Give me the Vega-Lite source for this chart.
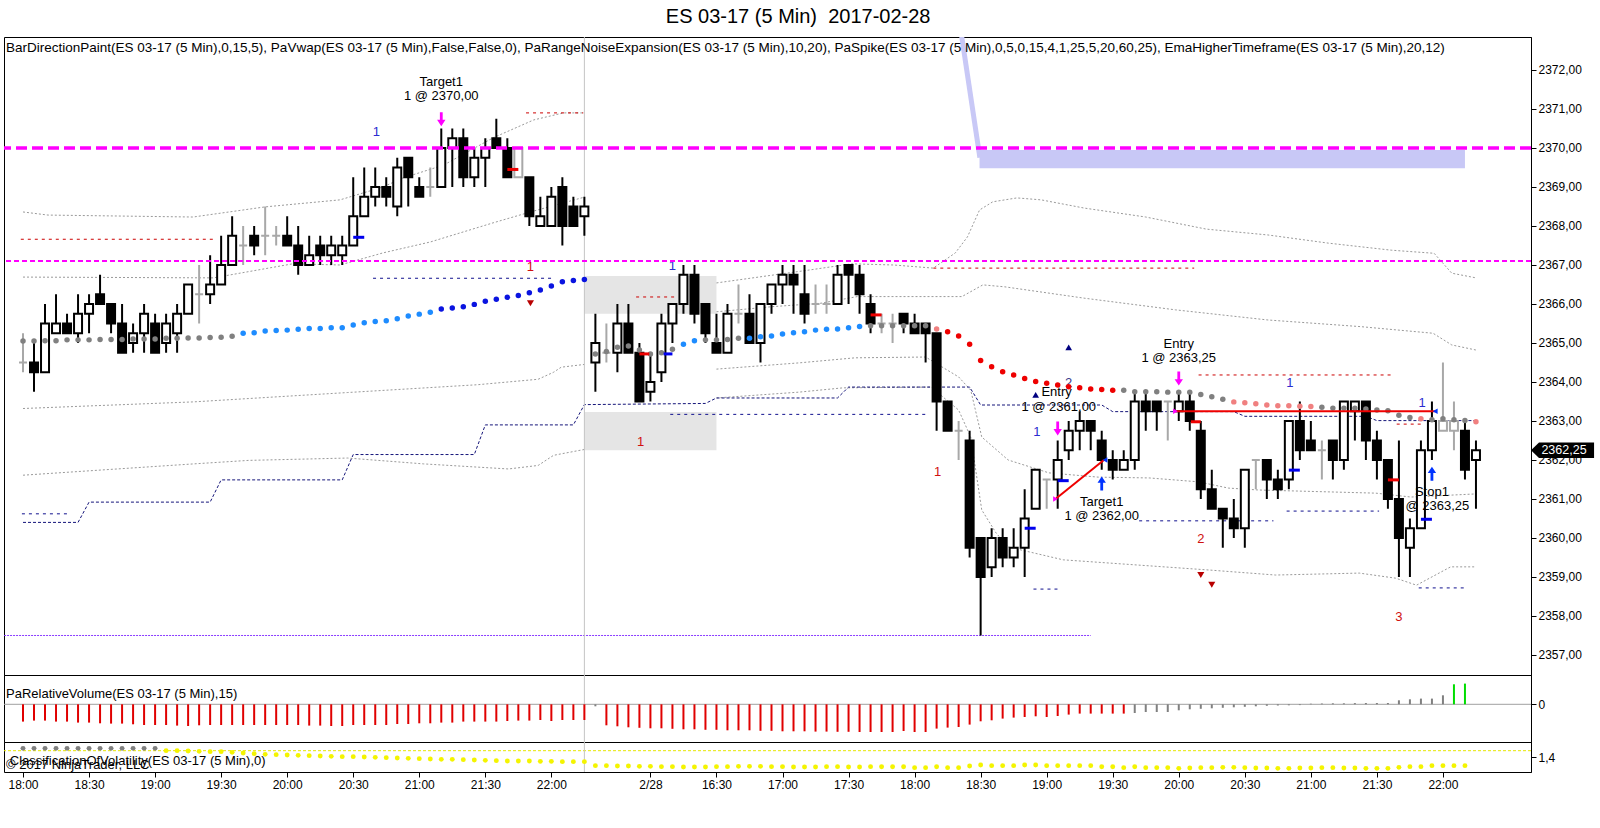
{
  "$schema": "https://vega.github.io/schema/vega-lite/v6.json",
  "padding": {"top": 7, "left": 1, "right": 0, "bottom": 0},
  "background": "white",
  "spacing": 0,
  "bounds": "flush",
  "config": {
    "font": "Liberation Sans",
    "view": {"stroke": "black", "strokeWidth": 1},
    "axis": {"labelColor": "black", "tickColor": "black", "domainColor": "black", "labelFontSize": 12, "grid": false}
  },
  "title": {"text": "ES 03-17 (5 Min)\u00a0 2017-02-28", "fontSize": 20, "fontWeight": "normal", "color": "black", "anchor": "middle", "frame": "bounds", "offset": 9},
  "datasets": {
    "bars": [
      {"i":0,"t":"2/27 18:00","o":2364.5,"h":2365.25,"l":2364.25,"c":2364.5,"d":"flat"},
      {"i":1,"t":"18:05","o":2364.5,"h":2365,"l":2363.75,"c":2364.25,"d":"down"},
      {"i":2,"t":"18:10","o":2364.25,"h":2366,"l":2364.25,"c":2365.5,"d":"up"},
      {"i":3,"t":"18:15","o":2365.25,"h":2366.25,"l":2365.25,"c":2365.5,"d":"up"},
      {"i":4,"t":"18:20","o":2365.5,"h":2365.75,"l":2365.25,"c":2365.25,"d":"down"},
      {"i":5,"t":"18:25","o":2365.25,"h":2366.25,"l":2365,"c":2365.75,"d":"up"},
      {"i":6,"t":"18:30","o":2365.75,"h":2366.25,"l":2365.25,"c":2366,"d":"up"},
      {"i":7,"t":"18:35","o":2366.25,"h":2366.75,"l":2366,"c":2366,"d":"down"},
      {"i":8,"t":"18:40","o":2366,"h":2366,"l":2365.25,"c":2365.5,"d":"down"},
      {"i":9,"t":"18:45","o":2365.5,"h":2366,"l":2364.75,"c":2364.75,"d":"down"},
      {"i":10,"t":"18:50","o":2365,"h":2365.5,"l":2364.75,"c":2365.25,"d":"up"},
      {"i":11,"t":"18:55","o":2365.25,"h":2366,"l":2364.75,"c":2365.75,"d":"up"},
      {"i":12,"t":"19:00","o":2365.5,"h":2365.75,"l":2364.75,"c":2364.75,"d":"down"},
      {"i":13,"t":"19:05","o":2365,"h":2365.75,"l":2364.75,"c":2365.5,"d":"up"},
      {"i":14,"t":"19:10","o":2365.25,"h":2366,"l":2364.75,"c":2365.75,"d":"up"},
      {"i":15,"t":"19:15","o":2365.75,"h":2366.5,"l":2365.75,"c":2366.5,"d":"up"},
      {"i":16,"t":"19:20","o":2366.25,"h":2367,"l":2365.5,"c":2366.25,"d":"flat"},
      {"i":17,"t":"19:25","o":2366.25,"h":2367.25,"l":2366,"c":2366.5,"d":"up"},
      {"i":18,"t":"19:30","o":2366.5,"h":2367.75,"l":2366.5,"c":2367,"d":"up"},
      {"i":19,"t":"19:35","o":2367,"h":2368.25,"l":2367,"c":2367.75,"d":"up"},
      {"i":20,"t":"19:40","o":2367.5,"h":2368,"l":2367,"c":2367.5,"d":"flat"},
      {"i":21,"t":"19:45","o":2367.75,"h":2368,"l":2367.25,"c":2367.5,"d":"down"},
      {"i":22,"t":"19:50","o":2367.75,"h":2368.5,"l":2367.25,"c":2367.75,"d":"flat"},
      {"i":23,"t":"19:55","o":2367.75,"h":2368,"l":2367.5,"c":2367.75,"d":"flat"},
      {"i":24,"t":"20:00","o":2367.75,"h":2368.25,"l":2367.5,"c":2367.5,"d":"down"},
      {"i":25,"t":"20:05","o":2367.5,"h":2368,"l":2366.75,"c":2367,"d":"down"},
      {"i":26,"t":"20:10","o":2367,"h":2367.75,"l":2367,"c":2367.25,"d":"up"},
      {"i":27,"t":"20:15","o":2367.5,"h":2367.75,"l":2367,"c":2367.25,"d":"down"},
      {"i":28,"t":"20:20","o":2367.25,"h":2367.75,"l":2367,"c":2367.5,"d":"up"},
      {"i":29,"t":"20:25","o":2367.25,"h":2367.75,"l":2367,"c":2367.5,"d":"up"},
      {"i":30,"t":"20:30","o":2367.5,"h":2369.25,"l":2367.5,"c":2368.25,"d":"up"},
      {"i":31,"t":"20:35","o":2368.25,"h":2369.5,"l":2368.25,"c":2368.75,"d":"up"},
      {"i":32,"t":"20:40","o":2368.75,"h":2369.5,"l":2368.5,"c":2369,"d":"up"},
      {"i":33,"t":"20:45","o":2369,"h":2369.25,"l":2368.5,"c":2368.75,"d":"down"},
      {"i":34,"t":"20:50","o":2368.5,"h":2369.75,"l":2368.25,"c":2369.5,"d":"up"},
      {"i":35,"t":"20:55","o":2369.75,"h":2369.75,"l":2368.5,"c":2369.25,"d":"down"},
      {"i":36,"t":"21:00","o":2369,"h":2369.25,"l":2368.75,"c":2368.75,"d":"down"},
      {"i":37,"t":"21:05","o":2369,"h":2369.5,"l":2368.75,"c":2369,"d":"flat"},
      {"i":38,"t":"21:10","o":2369,"h":2370.5,"l":2369,"c":2370,"d":"up"},
      {"i":39,"t":"21:15","o":2370,"h":2370.5,"l":2369,"c":2370.25,"d":"up"},
      {"i":40,"t":"21:20","o":2370.25,"h":2370.5,"l":2369,"c":2369.25,"d":"down"},
      {"i":41,"t":"21:25","o":2369.25,"h":2370,"l":2369,"c":2369.75,"d":"up"},
      {"i":42,"t":"21:30","o":2369.75,"h":2370.25,"l":2369,"c":2370,"d":"up"},
      {"i":43,"t":"21:35","o":2370.25,"h":2370.75,"l":2370,"c":2370,"d":"down"},
      {"i":44,"t":"21:40","o":2370,"h":2370.25,"l":2369.25,"c":2369.25,"d":"down"},
      {"i":45,"t":"21:45","o":2369.25,"h":2370,"l":2369.25,"c":2370,"d":"flat"},
      {"i":46,"t":"21:50","o":2369.25,"h":2369.25,"l":2368,"c":2368.25,"d":"down"},
      {"i":47,"t":"21:55","o":2368,"h":2368.75,"l":2368,"c":2368.25,"d":"up"},
      {"i":48,"t":"22:00","o":2368,"h":2369,"l":2368,"c":2368.75,"d":"up"},
      {"i":49,"t":"22:05","o":2369,"h":2369.25,"l":2367.5,"c":2368,"d":"down"},
      {"i":50,"t":"22:10","o":2368.5,"h":2368.75,"l":2368,"c":2368,"d":"down"},
      {"i":51,"t":"22:15","o":2368.25,"h":2368.75,"l":2367.75,"c":2368.5,"d":"up"},
      {"i":52,"t":"2/28 15:35","o":2364.5,"h":2365.75,"l":2363.75,"c":2365,"d":"up"},
      {"i":53,"t":"15:40","o":2364.75,"h":2365.5,"l":2364.5,"c":2364.75,"d":"flat"},
      {"i":54,"t":"15:45","o":2364.75,"h":2366,"l":2364.25,"c":2365.5,"d":"up"},
      {"i":55,"t":"15:50","o":2365.5,"h":2366,"l":2364.75,"c":2364.75,"d":"down"},
      {"i":56,"t":"15:55","o":2364.75,"h":2365,"l":2363.5,"c":2363.5,"d":"down"},
      {"i":57,"t":"16:00","o":2363.75,"h":2364.75,"l":2363.5,"c":2364,"d":"up"},
      {"i":58,"t":"16:05","o":2364.25,"h":2365.75,"l":2364,"c":2365.5,"d":"up"},
      {"i":59,"t":"16:10","o":2365.5,"h":2366,"l":2365,"c":2366,"d":"up"},
      {"i":60,"t":"16:15","o":2366,"h":2367,"l":2365.75,"c":2366.75,"d":"up"},
      {"i":61,"t":"16:20","o":2366.75,"h":2367,"l":2365.5,"c":2365.75,"d":"down"},
      {"i":62,"t":"16:25","o":2366,"h":2366,"l":2365,"c":2365.25,"d":"down"},
      {"i":63,"t":"16:30","o":2365,"h":2365.75,"l":2364.75,"c":2364.75,"d":"down"},
      {"i":64,"t":"16:35","o":2364.75,"h":2366,"l":2364.75,"c":2365.75,"d":"up"},
      {"i":65,"t":"16:40","o":2365.75,"h":2366.5,"l":2365.5,"c":2365.75,"d":"flat"},
      {"i":66,"t":"16:45","o":2365.75,"h":2366.25,"l":2365,"c":2365,"d":"down"},
      {"i":67,"t":"16:50","o":2365,"h":2366,"l":2364.5,"c":2366,"d":"up"},
      {"i":68,"t":"16:55","o":2366,"h":2366.5,"l":2365.75,"c":2366.5,"d":"up"},
      {"i":69,"t":"17:00","o":2366.5,"h":2367,"l":2366,"c":2366.75,"d":"up"},
      {"i":70,"t":"17:05","o":2366.75,"h":2367,"l":2365.75,"c":2366.5,"d":"down"},
      {"i":71,"t":"17:10","o":2366.25,"h":2367,"l":2365.5,"c":2365.75,"d":"down"},
      {"i":72,"t":"17:15","o":2366,"h":2366.5,"l":2365.75,"c":2366,"d":"flat"},
      {"i":73,"t":"17:20","o":2366,"h":2366.5,"l":2365.75,"c":2366,"d":"flat"},
      {"i":74,"t":"17:25","o":2366,"h":2367,"l":2366,"c":2366.75,"d":"up"},
      {"i":75,"t":"17:30","o":2367,"h":2367,"l":2366,"c":2366.75,"d":"down"},
      {"i":76,"t":"17:35","o":2366.75,"h":2367,"l":2365.75,"c":2366.25,"d":"down"},
      {"i":77,"t":"17:40","o":2366,"h":2366.25,"l":2365.25,"c":2365.5,"d":"down"},
      {"i":78,"t":"17:45","o":2365.5,"h":2365.75,"l":2365.25,"c":2365.5,"d":"flat"},
      {"i":79,"t":"17:50","o":2365.5,"h":2365.75,"l":2365,"c":2365.5,"d":"flat"},
      {"i":80,"t":"17:55","o":2365.75,"h":2365.75,"l":2365.25,"c":2365.5,"d":"down"},
      {"i":81,"t":"18:00","o":2365.5,"h":2365.75,"l":2365.25,"c":2365.25,"d":"down"},
      {"i":82,"t":"18:05","o":2365.5,"h":2365.5,"l":2364.5,"c":2365.25,"d":"down"},
      {"i":83,"t":"18:10","o":2365.25,"h":2365.25,"l":2362.75,"c":2363.5,"d":"down"},
      {"i":84,"t":"18:15","o":2363.5,"h":2363.5,"l":2362.75,"c":2362.75,"d":"down"},
      {"i":85,"t":"18:20","o":2362.75,"h":2363,"l":2362,"c":2362.75,"d":"flat"},
      {"i":86,"t":"18:25","o":2362.5,"h":2362.75,"l":2359.5,"c":2359.75,"d":"down"},
      {"i":87,"t":"18:30","o":2360,"h":2360,"l":2357.5,"c":2359,"d":"down"},
      {"i":88,"t":"18:35","o":2359.25,"h":2360.25,"l":2359,"c":2360,"d":"up"},
      {"i":89,"t":"18:40","o":2360,"h":2360.25,"l":2359.25,"c":2359.5,"d":"down"},
      {"i":90,"t":"18:45","o":2359.5,"h":2360.25,"l":2359.25,"c":2359.75,"d":"up"},
      {"i":91,"t":"18:50","o":2359.75,"h":2361.25,"l":2359,"c":2360.5,"d":"up"},
      {"i":92,"t":"18:55","o":2360.75,"h":2361.75,"l":2360.75,"c":2361.75,"d":"up"},
      {"i":93,"t":"19:00","o":2361.5,"h":2361.5,"l":2360.75,"c":2361.5,"d":"flat"},
      {"i":94,"t":"19:05","o":2361.5,"h":2362.5,"l":2360.75,"c":2362,"d":"up"},
      {"i":95,"t":"19:10","o":2362.25,"h":2363,"l":2362,"c":2362.75,"d":"up"},
      {"i":96,"t":"19:15","o":2362.75,"h":2363.25,"l":2362.25,"c":2363,"d":"up"},
      {"i":97,"t":"19:20","o":2363,"h":2363,"l":2362.25,"c":2362.75,"d":"down"},
      {"i":98,"t":"19:25","o":2362.5,"h":2362.75,"l":2361.75,"c":2362,"d":"down"},
      {"i":99,"t":"19:30","o":2362,"h":2362.25,"l":2361.5,"c":2361.75,"d":"down"},
      {"i":100,"t":"19:35","o":2361.75,"h":2362.25,"l":2361.75,"c":2362,"d":"up"},
      {"i":101,"t":"19:40","o":2362,"h":2363.75,"l":2361.75,"c":2363.5,"d":"up"},
      {"i":102,"t":"19:45","o":2363.5,"h":2363.75,"l":2362.75,"c":2363.25,"d":"down"},
      {"i":103,"t":"19:50","o":2363.5,"h":2363.5,"l":2362.75,"c":2363.25,"d":"down"},
      {"i":104,"t":"19:55","o":2363.5,"h":2363.5,"l":2362.5,"c":2363.5,"d":"flat"},
      {"i":105,"t":"20:00","o":2363.25,"h":2363.75,"l":2363,"c":2363.5,"d":"up"},
      {"i":106,"t":"20:05","o":2363.5,"h":2363.75,"l":2362.75,"c":2363,"d":"down"},
      {"i":107,"t":"20:10","o":2362.75,"h":2363,"l":2361,"c":2361.25,"d":"down"},
      {"i":108,"t":"20:15","o":2361.25,"h":2361.75,"l":2360.75,"c":2360.75,"d":"down"},
      {"i":109,"t":"20:20","o":2360.75,"h":2360.75,"l":2359.75,"c":2360.5,"d":"down"},
      {"i":110,"t":"20:25","o":2360.5,"h":2361,"l":2360,"c":2360.25,"d":"down"},
      {"i":111,"t":"20:30","o":2360.25,"h":2361.75,"l":2359.75,"c":2361.75,"d":"up"},
      {"i":112,"t":"20:35","o":2362,"h":2362,"l":2361.25,"c":2362,"d":"flat"},
      {"i":113,"t":"20:40","o":2362,"h":2362,"l":2361,"c":2361.5,"d":"down"},
      {"i":114,"t":"20:45","o":2361.5,"h":2361.75,"l":2361,"c":2361.25,"d":"down"},
      {"i":115,"t":"20:50","o":2361.5,"h":2363,"l":2361.25,"c":2363,"d":"up"},
      {"i":116,"t":"20:55","o":2363,"h":2363.5,"l":2362,"c":2362.25,"d":"down"},
      {"i":117,"t":"21:00","o":2362.5,"h":2363,"l":2362.25,"c":2362.25,"d":"down"},
      {"i":118,"t":"21:05","o":2362.25,"h":2362.5,"l":2361.5,"c":2362.25,"d":"flat"},
      {"i":119,"t":"21:10","o":2362.5,"h":2362.5,"l":2361.5,"c":2362,"d":"down"},
      {"i":120,"t":"21:15","o":2362,"h":2363.5,"l":2361.75,"c":2363.5,"d":"up"},
      {"i":121,"t":"21:20","o":2363.25,"h":2363.5,"l":2362.5,"c":2363.5,"d":"up"},
      {"i":122,"t":"21:25","o":2363.5,"h":2363.5,"l":2362,"c":2362.5,"d":"down"},
      {"i":123,"t":"21:30","o":2362.5,"h":2362.75,"l":2361.5,"c":2362,"d":"down"},
      {"i":124,"t":"21:35","o":2362,"h":2362,"l":2360.75,"c":2361,"d":"down"},
      {"i":125,"t":"21:40","o":2361,"h":2362.5,"l":2359,"c":2360,"d":"down"},
      {"i":126,"t":"21:45","o":2359.75,"h":2360.5,"l":2359,"c":2360.25,"d":"up"},
      {"i":127,"t":"21:50","o":2360.25,"h":2362.5,"l":2360.25,"c":2362.25,"d":"up"},
      {"i":128,"t":"21:55","o":2362.25,"h":2363.5,"l":2362,"c":2363,"d":"up"},
      {"i":129,"t":"22:00","o":2363,"h":2364.5,"l":2362.75,"c":2362.75,"d":"flat"},
      {"i":130,"t":"22:05","o":2363,"h":2363.5,"l":2362.25,"c":2362.75,"d":"flat"},
      {"i":131,"t":"22:10","o":2362.75,"h":2363,"l":2361.5,"c":2361.75,"d":"down"},
      {"i":132,"t":"22:15","o":2362,"h":2362.5,"l":2360.75,"c":2362.25,"d":"up"}
    ],
    "ema": [
      {"i":0,"p":2365.05,"c":"gray"},{"i":1,"p":2365.05,"c":"gray"},{"i":2,"p":2365.06,"c":"gray"},{"i":3,"p":2365.06,"c":"gray"},
      {"i":4,"p":2365.08,"c":"gray"},{"i":5,"p":2365.08,"c":"gray"},{"i":6,"p":2365.08,"c":"gray"},{"i":7,"p":2365.09,"c":"gray"},
      {"i":8,"p":2365.09,"c":"gray"},{"i":9,"p":2365.09,"c":"gray"},{"i":10,"p":2365.1,"c":"gray"},{"i":11,"p":2365.1,"c":"gray"},
      {"i":12,"p":2365.1,"c":"gray"},{"i":13,"p":2365.12,"c":"gray"},{"i":14,"p":2365.12,"c":"gray"},{"i":15,"p":2365.13,"c":"gray"},
      {"i":16,"p":2365.13,"c":"gray"},{"i":17,"p":2365.14,"c":"gray"},{"i":18,"p":2365.15,"c":"gray"},{"i":19,"p":2365.17,"c":"gray"},
      {"i":20,"p":2365.25,"c":"blue"},{"i":21,"p":2365.26,"c":"blue"},{"i":22,"p":2365.31,"c":"blue"},{"i":23,"p":2365.32,"c":"blue"},
      {"i":24,"p":2365.33,"c":"blue"},{"i":25,"p":2365.35,"c":"blue"},{"i":26,"p":2365.37,"c":"blue"},{"i":27,"p":2365.37,"c":"blue"},
      {"i":28,"p":2365.39,"c":"blue"},{"i":29,"p":2365.39,"c":"blue"},{"i":30,"p":2365.46,"c":"blue"},{"i":31,"p":2365.52,"c":"blue"},
      {"i":32,"p":2365.55,"c":"blue"},{"i":33,"p":2365.57,"c":"blue"},{"i":34,"p":2365.62,"c":"blue"},{"i":35,"p":2365.69,"c":"blue"},
      {"i":36,"p":2365.74,"c":"blue"},{"i":37,"p":2365.79,"c":"blue"},{"i":38,"p":2365.87,"c":"navy"},{"i":39,"p":2365.9,"c":"navy"},
      {"i":40,"p":2365.93,"c":"navy"},{"i":41,"p":2365.99,"c":"navy"},{"i":42,"p":2366.07,"c":"navy"},{"i":43,"p":2366.12,"c":"navy"},
      {"i":44,"p":2366.17,"c":"navy"},{"i":45,"p":2366.22,"c":"navy"},{"i":46,"p":2366.29,"c":"navy"},{"i":47,"p":2366.36,"c":"navy"},
      {"i":48,"p":2366.46,"c":"navy"},{"i":49,"p":2366.57,"c":"navy"},{"i":50,"p":2366.6,"c":"navy"},{"i":51,"p":2366.63,"c":"navy"},
      {"i":52,"p":2364.72,"c":"gray"},{"i":53,"p":2364.78,"c":"gray"},{"i":54,"p":2364.89,"c":"gray"},{"i":55,"p":2364.92,"c":"gray"},
      {"i":56,"p":2364.82,"c":"gray"},{"i":57,"p":2364.72,"c":"gray"},{"i":58,"p":2364.75,"c":"gray"},{"i":59,"p":2364.84,"c":"gray"},
      {"i":60,"p":2364.97,"c":"blue"},{"i":61,"p":2365.06,"c":"blue"},{"i":62,"p":2365.08,"c":"gray"},{"i":63,"p":2365.08,"c":"gray"},
      {"i":64,"p":2365.09,"c":"gray"},{"i":65,"p":2365.12,"c":"gray"},{"i":66,"p":2365.12,"c":"blue"},{"i":67,"p":2365.16,"c":"blue"},
      {"i":68,"p":2365.18,"c":"blue"},{"i":69,"p":2365.23,"c":"blue"},{"i":70,"p":2365.26,"c":"blue"},{"i":71,"p":2365.29,"c":"blue"},
      {"i":72,"p":2365.33,"c":"blue"},{"i":73,"p":2365.35,"c":"blue"},{"i":74,"p":2365.36,"c":"blue"},{"i":75,"p":2365.39,"c":"blue"},
      {"i":76,"p":2365.42,"c":"blue"},{"i":77,"p":2365.44,"c":"gray"},{"i":78,"p":2365.44,"c":"gray"},{"i":79,"p":2365.44,"c":"gray"},
      {"i":80,"p":2365.44,"c":"gray"},{"i":81,"p":2365.44,"c":"gray"},{"i":82,"p":2365.44,"c":"gray"},{"i":83,"p":2365.36,"c":"pink"},
      {"i":84,"p":2365.29,"c":"red"},{"i":85,"p":2365.18,"c":"red"},{"i":86,"p":2364.97,"c":"red"},{"i":87,"p":2364.55,"c":"red"},
      {"i":88,"p":2364.39,"c":"red"},{"i":89,"p":2364.26,"c":"red"},{"i":90,"p":2364.18,"c":"red"},{"i":91,"p":2364.09,"c":"red"},
      {"i":92,"p":2364.01,"c":"red"},{"i":93,"p":2363.97,"c":"red"},{"i":94,"p":2363.92,"c":"red"},{"i":95,"p":2363.88,"c":"red"},
      {"i":96,"p":2363.85,"c":"red"},{"i":97,"p":2363.82,"c":"red"},{"i":98,"p":2363.81,"c":"red"},{"i":99,"p":2363.79,"c":"red"},
      {"i":100,"p":2363.79,"c":"gray"},{"i":101,"p":2363.75,"c":"gray"},{"i":102,"p":2363.75,"c":"gray"},{"i":103,"p":2363.75,"c":"gray"},
      {"i":104,"p":2363.74,"c":"gray"},{"i":105,"p":2363.74,"c":"gray"},{"i":106,"p":2363.74,"c":"gray"},{"i":107,"p":2363.68,"c":"gray"},
      {"i":108,"p":2363.62,"c":"gray"},{"i":109,"p":2363.56,"c":"gray"},{"i":110,"p":2363.49,"c":"pink"},{"i":111,"p":2363.47,"c":"pink"},
      {"i":112,"p":2363.44,"c":"pink"},{"i":113,"p":2363.41,"c":"pink"},{"i":114,"p":2363.39,"c":"pink"},{"i":115,"p":2363.39,"c":"pink"},
      {"i":116,"p":2363.38,"c":"pink"},{"i":117,"p":2363.37,"c":"pink"},{"i":118,"p":2363.35,"c":"gray"},{"i":119,"p":2363.33,"c":"gray"},
      {"i":120,"p":2363.33,"c":"gray"},{"i":121,"p":2363.33,"c":"gray"},{"i":122,"p":2363.31,"c":"gray"},{"i":123,"p":2363.28,"c":"gray"},
      {"i":124,"p":2363.26,"c":"gray"},{"i":125,"p":2363.15,"c":"gray"},{"i":126,"p":2363.09,"c":"gray"},{"i":127,"p":2363.06,"c":"pink"},
      {"i":128,"p":2363.03,"c":"gray"},{"i":129,"p":2363.06,"c":"gray"},{"i":130,"p":2363.03,"c":"gray"},{"i":131,"p":2363.01,"c":"gray"},
      {"i":132,"p":2362.98,"c":"pink"}
    ],
    "bands": [
      {"s":"u2a","i":0,"p":2368.36},{"s":"u2a","i":2.27,"p":2368.28},{"s":"u2a","i":15.45,"p":2368.23},{"s":"u2a","i":22,"p":2368.49},{"s":"u2a","i":28.8,"p":2368.67},{"s":"u2a","i":32.7,"p":2369.0},{"s":"u2a","i":34.5,"p":2369.23},{"s":"u2a","i":38.2,"p":2369.56},{"s":"u2a","i":42.7,"p":2370.26},{"s":"u2a","i":46.4,"p":2370.72},{"s":"u2a","i":49.1,"p":2370.9},{"s":"u2a","i":51,"p":2370.9},
      {"s":"u1a","i":0,"p":2366.69},{"s":"u1a","i":17.3,"p":2366.67},{"s":"u1a","i":24.5,"p":2367.03},{"s":"u1a","i":28.8,"p":2367.0},{"s":"u1a","i":32.7,"p":2367.31},{"s":"u1a","i":37,"p":2367.59},{"s":"u1a","i":42.7,"p":2368.08},{"s":"u1a","i":46.1,"p":2368.36},{"s":"u1a","i":51,"p":2368.74},
      {"s":"l1a","i":0,"p":2363.32},{"s":"l1a","i":15.5,"p":2363.49},{"s":"l1a","i":29.5,"p":2363.73},{"s":"l1a","i":41.3,"p":2363.93},{"s":"l1a","i":46.8,"p":2364.07},{"s":"l1a","i":48.2,"p":2364.25},{"s":"l1a","i":48.9,"p":2364.38},{"s":"l1a","i":51,"p":2364.45},
      {"s":"l2a","i":0,"p":2361.61},{"s":"l2a","i":15.5,"p":2361.9},{"s":"l2a","i":20.5,"p":2361.99},{"s":"l2a","i":29.5,"p":2362.05},{"s":"l2a","i":36.4,"p":2361.9},{"s":"l2a","i":44.1,"p":2361.77},{"s":"l2a","i":46.8,"p":2361.86},{"s":"l2a","i":48.2,"p":2362.12},{"s":"l2a","i":51,"p":2362.27},
      {"s":"u2b","i":63,"p":2366.54},{"s":"u2b","i":71.4,"p":2366.87},{"s":"u2b","i":75.3,"p":2367.03},{"s":"u2b","i":79.1,"p":2367.0},{"s":"u2b","i":82.7,"p":2366.92},{"s":"u2b","i":84.7,"p":2367.31},{"s":"u2b","i":85.8,"p":2367.72},{"s":"u2b","i":86.9,"p":2368.41},{"s":"u2b","i":88.1,"p":2368.62},{"s":"u2b","i":90.3,"p":2368.72},{"s":"u2b","i":92.5,"p":2368.67},{"s":"u2b","i":96.4,"p":2368.46},{"s":"u2b","i":102,"p":2368.23},{"s":"u2b","i":107.5,"p":2367.92},{"s":"u2b","i":113.1,"p":2367.77},{"s":"u2b","i":118.6,"p":2367.56},{"s":"u2b","i":124.3,"p":2367.38},{"s":"u2b","i":128.2,"p":2367.3},{"s":"u2b","i":129.8,"p":2366.79},{"s":"u2b","i":132,"p":2366.67},
      {"s":"u1b","i":63,"p":2365.8},{"s":"u1b","i":68,"p":2365.93},{"s":"u1b","i":72.5,"p":2366.02},{"s":"u1b","i":75.8,"p":2366.19},{"s":"u1b","i":85.3,"p":2366.19},{"s":"u1b","i":87.2,"p":2366.49},{"s":"u1b","i":89.2,"p":2366.44},{"s":"u1b","i":96.4,"p":2366.15},{"s":"u1b","i":104.7,"p":2365.85},{"s":"u1b","i":113.1,"p":2365.59},{"s":"u1b","i":121.5,"p":2365.42},{"s":"u1b","i":128.1,"p":2365.25},{"s":"u1b","i":129.8,"p":2364.95},{"s":"u1b","i":132,"p":2364.82},
      {"s":"l1b","i":63,"p":2364.33},{"s":"l1b","i":70.5,"p":2364.49},{"s":"l1b","i":75.6,"p":2364.62},{"s":"l1b","i":82,"p":2364.64},{"s":"l1b","i":85,"p":2364.13},{"s":"l1b","i":86.1,"p":2363.79},{"s":"l1b","i":87.1,"p":2362.59},{"s":"l1b","i":89.5,"p":2362.0},{"s":"l1b","i":93.2,"p":2361.67},{"s":"l1b","i":97.7,"p":2361.56},{"s":"l1b","i":102.3,"p":2361.54},{"s":"l1b","i":106.8,"p":2361.44},{"s":"l1b","i":109.5,"p":2361.28},{"s":"l1b","i":112.3,"p":2361.23},{"s":"l1b","i":122.9,"p":2361.15},{"s":"l1b","i":126.1,"p":2361.05},{"s":"l1b","i":132,"p":2361.13},
      {"s":"l2b","i":63,"p":2363.59},{"s":"l2b","i":70.5,"p":2363.74},{"s":"l2b","i":74.5,"p":2363.85},{"s":"l2b","i":82.5,"p":2363.87},{"s":"l2b","i":85,"p":2363.28},{"s":"l2b","i":86.1,"p":2362.59},{"s":"l2b","i":87.1,"p":2360.72},{"s":"l2b","i":88.4,"p":2360.13},{"s":"l2b","i":89.5,"p":2359.77},{"s":"l2b","i":94.5,"p":2359.44},{"s":"l2b","i":107.7,"p":2359.18},{"s":"l2b","i":113.8,"p":2359.05},{"s":"l2b","i":121.4,"p":2359.1},{"s":"l2b","i":124.7,"p":2358.97},{"s":"l2b","i":126.6,"p":2358.79},{"s":"l2b","i":129.7,"p":2359.26},{"s":"l2b","i":132,"p":2359.26}
    ],
    "steps": [
      {"i":0,"p":2360.4},{"i":5,"p":2360.4},{"i":6,"p":2360.92},{"i":17,"p":2360.92},{"i":18,"p":2361.49},{"i":29,"p":2361.49},
      {"i":30,"p":2362.14},{"i":41,"p":2362.14},{"i":42,"p":2362.9},{"i":50,"p":2362.9},{"i":51,"p":2363.42},{"i":62,"p":2363.45},
      {"i":63,"p":2363.59},{"i":74,"p":2363.59},{"i":75,"p":2363.87},{"i":86,"p":2363.87},{"i":87,"p":2363.41},{"i":98,"p":2363.41},
      {"i":99,"p":2363.24},{"i":110,"p":2363.24},{"i":111,"p":2363.12},{"i":122,"p":2363.12},{"i":123,"p":2363.01},{"i":132,"p":2363.01}
    ],
    "levels": [
      {"k":"red","i1":-0.2,"i2":17.3,"p":2367.66},
      {"k":"red","i1":45.7,"i2":50.9,"p":2370.9},
      {"k":"navy","i1":-0.1,"i2":4.1,"p":2360.62},
      {"k":"navy","i1":31.8,"i2":48,"p":2366.66},
      {"k":"red","i1":55.7,"i2":59.5,"p":2366.18},
      {"k":"navy","i1":58.8,"i2":82.3,"p":2363.17},
      {"k":"red","i1":82.7,"i2":106.4,"p":2366.92},
      {"k":"navy","i1":91.8,"i2":94.3,"p":2358.69},
      {"k":"navy","i1":101.4,"i2":113.6,"p":2360.44},
      {"k":"red","i1":106.8,"i2":124.3,"p":2364.18},
      {"k":"navy","i1":114.8,"i2":123.2,"p":2360.69},
      {"k":"red","i1":124.8,"i2":127.1,"p":2362.92},
      {"k":"navy","i1":126.8,"i2":131.2,"p":2358.72},
      {"k":"purple","i1":-1.72,"i2":97,"p":2357.5}
    ],
    "hlines": [{"k":"thick","p":2370.0},{"k":"thin","p":2367.1}],
    "boxes": [{"i1":51,"i2":63,"p1":2365.75,"p2":2366.72},{"i1":51,"i2":63,"p1":2362.25,"p2":2363.23}],
    "lav": [{"i1":86.9,"i2":131,"p1":2369.48,"p2":2369.95}],
    "lavslant": [{"i":85.1,"p":2373.2},{"i":86.93,"p":2369.75}],
    "sess": [{"i":51}],
    "trades": [{"tr":1,"i":93.8,"p":2361.0},{"tr":1,"i":98.2,"p":2362.0},{"tr":2,"i":104.7,"p":2363.25},{"tr":2,"i":128.3,"p":2363.25}],
    "mk": [
      {"k":"spike_dn","i":46.1,"p":2366.02},{"k":"spike_dn","i":107,"p":2359.05},{"k":"spike_dn","i":108,"p":2358.8},
      {"k":"spike_up","i":95,"p":2364.89},{"k":"spike_up","i":92,"p":2363.67},
      {"k":"sell","i":38,"p":2370.74},{"k":"sell","i":94,"p":2362.81},{"k":"sell","i":105,"p":2364.09},
      {"k":"buy","i":98,"p":2361.4},{"k":"buy","i":128,"p":2361.65},
      {"k":"entry","i":93.8,"p":2361.0},{"k":"entry","i":104.7,"p":2363.25},
      {"k":"exit","i":98.3,"p":2362.0},{"k":"exit","i":128.3,"p":2363.25}
    ],
    "ann": [
      {"i":38,"p":2371.7,"txt":"Target1"},{"i":38,"p":2371.34,"txt":"1 @ 2370,00"},
      {"i":93.9,"p":2363.75,"txt":"Entry"},{"i":94.1,"p":2363.35,"txt":"1 @ 2361,00"},
      {"i":98,"p":2360.93,"txt":"Target1"},{"i":98,"p":2360.57,"txt":"1 @ 2362,00"},
      {"i":105,"p":2364.97,"txt":"Entry"},{"i":105,"p":2364.61,"txt":"1 @ 2363,25"},
      {"i":128,"p":2361.19,"txt":"Stop1"},{"i":128,"p":2360.82,"txt":"1 @ 2363,25"}
    ],
    "num": [
      {"i":32.1,"p":2370.42,"txt":"1","k":"blue"},{"i":46.1,"p":2366.96,"txt":"1","k":"red"},
      {"i":59,"p":2366.97,"txt":"1","k":"blue"},{"i":56.1,"p":2362.47,"txt":"1","k":"red"},
      {"i":83.1,"p":2361.7,"txt":"1","k":"red"},{"i":92.1,"p":2362.73,"txt":"1","k":"blue"},
      {"i":95,"p":2363.97,"txt":"2","k":"navy"},{"i":107,"p":2359.97,"txt":"2","k":"red"},
      {"i":115.1,"p":2363.97,"txt":"1","k":"blue"},{"i":127.1,"p":2363.47,"txt":"1","k":"blue"},
      {"i":125,"p":2357.98,"txt":"3","k":"red"}
    ],
    "tk": [
      {"k":"blue","i1":30,"i2":31,"p":2367.71},{"k":"red","i1":44,"i2":45,"p":2369.45},
      {"k":"red","i1":56,"i2":56.9,"p":2364.72},{"k":"blue","i1":58.2,"i2":59,"p":2364.72},
      {"k":"red","i1":77,"i2":78,"p":2365.72},{"k":"blue","i1":91,"i2":92,"p":2360.25},
      {"k":"blue","i1":94,"i2":95,"p":2361.47},{"k":"red","i1":106.1,"i2":107,"p":2362.98},
      {"k":"blue","i1":115,"i2":116,"p":2361.74},{"k":"red","i1":124,"i2":125,"p":2361.49},
      {"k":"blue","i1":127,"i2":128,"p":2360.48}
    ],
    "hdr": [{"i":-1.545,"p":2372.56,"txt":"BarDirectionPaint(ES 03-17 (5 Min),0,15,5),  PaVwap(ES 03-17 (5 Min),False,False,0),  PaRangeNoiseExpansion(ES 03-17 (5 Min),10,20),  PaSpike(ES 03-17 (5 Min),0,5,0,15,4,1,25,5,20,60,25),  EmaHigherTimeframe(ES 03-17 (5 Min),20,12)"}],
    "tag": [{"i":137,"p":2362.25,"txt":"2362,25"}],
    "vol": [
      {"i":0,"v":-17.3,"c":"red"},{"i":1,"v":-16.3,"c":"red"},{"i":2,"v":-16.3,"c":"red"},{"i":3,"v":-17.3,"c":"red"},{"i":4,"v":-17.3,"c":"red"},
      {"i":5,"v":-18.3,"c":"red"},{"i":6,"v":-18.3,"c":"red"},{"i":7,"v":-19,"c":"red"},{"i":8,"v":-19.3,"c":"red"},{"i":9,"v":-19.3,"c":"red"},
      {"i":10,"v":-20,"c":"red"},{"i":11,"v":-20.7,"c":"red"},{"i":12,"v":-20.7,"c":"red"},{"i":13,"v":-20.7,"c":"red"},{"i":14,"v":-21.3,"c":"red"},
      {"i":15,"v":-21.7,"c":"red"},{"i":16,"v":-21,"c":"red"},{"i":17,"v":-20.7,"c":"red"},{"i":18,"v":-20.7,"c":"red"},{"i":19,"v":-20.7,"c":"red"},
      {"i":20,"v":-20.7,"c":"red"},{"i":21,"v":-20.7,"c":"red"},{"i":22,"v":-20.7,"c":"red"},{"i":23,"v":-20.7,"c":"red"},{"i":24,"v":-20.7,"c":"red"},
      {"i":25,"v":-20.7,"c":"red"},{"i":26,"v":-21.3,"c":"red"},{"i":27,"v":-21.3,"c":"red"},{"i":28,"v":-21.7,"c":"red"},{"i":29,"v":-21.7,"c":"red"},
      {"i":30,"v":-20.7,"c":"red"},{"i":31,"v":-20.7,"c":"red"},{"i":32,"v":-20.7,"c":"red"},{"i":33,"v":-20.7,"c":"red"},{"i":34,"v":-19.7,"c":"red"},
      {"i":35,"v":-19.7,"c":"red"},{"i":36,"v":-19,"c":"red"},{"i":37,"v":-19,"c":"red"},{"i":38,"v":-18.3,"c":"red"},{"i":39,"v":-18.3,"c":"red"},
      {"i":40,"v":-17.3,"c":"red"},{"i":41,"v":-17.3,"c":"red"},{"i":42,"v":-17.3,"c":"red"},{"i":43,"v":-17.3,"c":"red"},{"i":44,"v":-16.7,"c":"red"},
      {"i":45,"v":-16.3,"c":"red"},{"i":46,"v":-16.3,"c":"red"},{"i":47,"v":-15.7,"c":"red"},{"i":48,"v":-16.7,"c":"red"},{"i":49,"v":-15.7,"c":"red"},
      {"i":50,"v":-15.7,"c":"red"},{"i":51,"v":-15.7,"c":"red"},
      {"i":52,"v":-2,"c":"gray"},
      {"i":53,"v":-21,"c":"red"},{"i":54,"v":-22,"c":"red"},{"i":55,"v":-23,"c":"red"},{"i":56,"v":-23.5,"c":"red"},{"i":57,"v":-24,"c":"red"},
      {"i":58,"v":-24,"c":"red"},{"i":59,"v":-24.5,"c":"red"},{"i":60,"v":-25,"c":"red"},{"i":61,"v":-25,"c":"red"},{"i":62,"v":-25.5,"c":"red"},
      {"i":63,"v":-25.5,"c":"red"},{"i":64,"v":-26,"c":"red"},{"i":65,"v":-26,"c":"red"},{"i":66,"v":-26,"c":"red"},{"i":67,"v":-26.5,"c":"red"},
      {"i":68,"v":-26.5,"c":"red"},{"i":69,"v":-27,"c":"red"},{"i":70,"v":-27,"c":"red"},{"i":71,"v":-27,"c":"red"},{"i":72,"v":-27.3,"c":"red"},
      {"i":73,"v":-27.3,"c":"red"},{"i":74,"v":-27.5,"c":"red"},{"i":75,"v":-27.5,"c":"red"},{"i":76,"v":-27.7,"c":"red"},{"i":77,"v":-27.7,"c":"red"},
      {"i":78,"v":-27.7,"c":"red"},{"i":79,"v":-27.7,"c":"red"},{"i":80,"v":-26.7,"c":"red"},{"i":81,"v":-27.7,"c":"red"},{"i":82,"v":-27.7,"c":"red"},
      {"i":83,"v":-24.3,"c":"red"},{"i":84,"v":-23.3,"c":"red"},{"i":85,"v":-22.7,"c":"red"},{"i":86,"v":-20.3,"c":"red"},{"i":87,"v":-17,"c":"red"},
      {"i":88,"v":-16,"c":"red"},{"i":89,"v":-14.3,"c":"red"},{"i":90,"v":-13.3,"c":"red"},{"i":91,"v":-12.7,"c":"red"},{"i":92,"v":-12,"c":"red"},
      {"i":93,"v":-12.7,"c":"red"},{"i":94,"v":-11.7,"c":"red"},{"i":95,"v":-10.3,"c":"red"},{"i":96,"v":-9.3,"c":"red"},{"i":97,"v":-9.3,"c":"red"},
      {"i":98,"v":-9.3,"c":"red"},{"i":99,"v":-9.3,"c":"red"},{"i":100,"v":-9.3,"c":"red"},
      {"i":101,"v":-8.7,"c":"gray"},{"i":102,"v":-7.7,"c":"gray"},{"i":103,"v":-7.7,"c":"gray"},{"i":104,"v":-7.7,"c":"gray"},{"i":105,"v":-6,"c":"gray"},
      {"i":106,"v":-5,"c":"gray"},{"i":107,"v":-4.5,"c":"gray"},{"i":108,"v":-4,"c":"gray"},{"i":109,"v":-3.5,"c":"gray"},{"i":110,"v":-3,"c":"gray"},
      {"i":111,"v":-2.5,"c":"gray"},{"i":112,"v":-2,"c":"gray"},{"i":113,"v":-1.5,"c":"gray"},{"i":114,"v":-1.2,"c":"gray"},{"i":115,"v":-1,"c":"gray"},
      {"i":116,"v":-0.8,"c":"gray"},{"i":117,"v":0.6,"c":"gray"},{"i":118,"v":0.8,"c":"gray"},{"i":119,"v":1,"c":"gray"},{"i":120,"v":1,"c":"gray"},
      {"i":121,"v":1.2,"c":"gray"},{"i":122,"v":1.3,"c":"gray"},{"i":123,"v":1.3,"c":"gray"},{"i":124,"v":1.3,"c":"gray"},{"i":125,"v":4,"c":"gray"},
      {"i":126,"v":5,"c":"gray"},{"i":127,"v":5.7,"c":"gray"},{"i":128,"v":5.7,"c":"gray"},{"i":129,"v":9,"c":"gray"},
      {"i":130,"v":20,"c":"green"},{"i":131,"v":20.7,"c":"green"}
    ],
    "zero": [{"v":0}],
    "volat": [
      {"i":0,"v":1.573,"c":"gray"},{"i":1,"v":1.573,"c":"gray"},{"i":2,"v":1.573,"c":"gray"},{"i":3,"v":1.573,"c":"gray"},{"i":4,"v":1.573,"c":"gray"},
      {"i":5,"v":1.573,"c":"gray"},{"i":6,"v":1.573,"c":"gray"},{"i":7,"v":1.573,"c":"gray"},{"i":8,"v":1.573,"c":"gray"},{"i":9,"v":1.573,"c":"gray"},
      {"i":10,"v":1.573,"c":"gray"},{"i":11,"v":1.573,"c":"gray"},{"i":12,"v":1.573,"c":"gray"},
      {"i":13,"v":1.527,"c":"yellow"},{"i":14,"v":1.527,"c":"yellow"},{"i":15,"v":1.52,"c":"yellow"},{"i":16,"v":1.513,"c":"yellow"},{"i":17,"v":1.507,"c":"yellow"},
      {"i":18,"v":1.507,"c":"yellow"},{"i":19,"v":1.493,"c":"yellow"},{"i":20,"v":1.48,"c":"yellow"},{"i":21,"v":1.467,"c":"yellow"},{"i":22,"v":1.453,"c":"yellow"},
      {"i":23,"v":1.447,"c":"yellow"},{"i":24,"v":1.44,"c":"yellow"},{"i":25,"v":1.433,"c":"yellow"},{"i":26,"v":1.427,"c":"yellow"},{"i":27,"v":1.42,"c":"yellow"},
      {"i":28,"v":1.413,"c":"yellow"},{"i":29,"v":1.407,"c":"yellow"},{"i":30,"v":1.407,"c":"yellow"},{"i":31,"v":1.4,"c":"yellow"},{"i":32,"v":1.393,"c":"yellow"},
      {"i":33,"v":1.387,"c":"yellow"},{"i":34,"v":1.38,"c":"yellow"},{"i":35,"v":1.373,"c":"yellow"},{"i":36,"v":1.367,"c":"yellow"},{"i":37,"v":1.36,"c":"yellow"},
      {"i":38,"v":1.353,"c":"yellow"},{"i":39,"v":1.353,"c":"yellow"},{"i":40,"v":1.347,"c":"yellow"},{"i":41,"v":1.34,"c":"yellow"},{"i":42,"v":1.333,"c":"yellow"},
      {"i":43,"v":1.327,"c":"yellow"},{"i":44,"v":1.32,"c":"yellow"},{"i":45,"v":1.32,"c":"yellow"},{"i":46,"v":1.32,"c":"yellow"},{"i":47,"v":1.313,"c":"yellow"},
      {"i":48,"v":1.313,"c":"yellow"},{"i":49,"v":1.307,"c":"yellow"},{"i":50,"v":1.307,"c":"yellow"},{"i":51,"v":1.307,"c":"yellow"},
      {"i":52,"v":1.227,"c":"yellow"},{"i":53,"v":1.227,"c":"yellow"},{"i":54,"v":1.22,"c":"yellow"},{"i":55,"v":1.22,"c":"yellow"},{"i":56,"v":1.213,"c":"yellow"},
      {"i":57,"v":1.213,"c":"yellow"},{"i":58,"v":1.207,"c":"yellow"},{"i":59,"v":1.207,"c":"yellow"},{"i":60,"v":1.2,"c":"yellow"},{"i":61,"v":1.2,"c":"yellow"},
      {"i":62,"v":1.2,"c":"yellow"},{"i":63,"v":1.207,"c":"yellow"},{"i":64,"v":1.207,"c":"yellow"},{"i":65,"v":1.213,"c":"yellow"},{"i":66,"v":1.213,"c":"yellow"},
      {"i":67,"v":1.213,"c":"yellow"},{"i":68,"v":1.207,"c":"yellow"},{"i":69,"v":1.207,"c":"yellow"},{"i":70,"v":1.2,"c":"yellow"},{"i":71,"v":1.2,"c":"yellow"},
      {"i":72,"v":1.2,"c":"yellow"},{"i":73,"v":1.207,"c":"yellow"},{"i":74,"v":1.207,"c":"yellow"},{"i":75,"v":1.2,"c":"yellow"},{"i":76,"v":1.2,"c":"yellow"},
      {"i":77,"v":1.207,"c":"yellow"},{"i":78,"v":1.206,"c":"yellow"},{"i":79,"v":1.206,"c":"yellow"},{"i":80,"v":1.206,"c":"yellow"},{"i":81,"v":1.187,"c":"yellow"},
      {"i":82,"v":1.187,"c":"yellow"},{"i":83,"v":1.206,"c":"yellow"},{"i":84,"v":1.187,"c":"yellow"},{"i":85,"v":1.187,"c":"yellow"},{"i":86,"v":1.22,"c":"yellow"},
      {"i":87,"v":1.24,"c":"yellow"},{"i":88,"v":1.227,"c":"yellow"},{"i":89,"v":1.227,"c":"yellow"},{"i":90,"v":1.227,"c":"yellow"},{"i":91,"v":1.24,"c":"yellow"},
      {"i":92,"v":1.24,"c":"yellow"},{"i":93,"v":1.227,"c":"yellow"},{"i":94,"v":1.227,"c":"yellow"},{"i":95,"v":1.227,"c":"yellow"},{"i":96,"v":1.227,"c":"yellow"},
      {"i":97,"v":1.227,"c":"yellow"},{"i":98,"v":1.206,"c":"yellow"},{"i":99,"v":1.206,"c":"yellow"},{"i":100,"v":1.187,"c":"yellow"},{"i":101,"v":1.206,"c":"yellow"},
      {"i":102,"v":1.187,"c":"yellow"},{"i":103,"v":1.187,"c":"yellow"},{"i":104,"v":1.187,"c":"yellow"},{"i":105,"v":1.173,"c":"yellow"},{"i":106,"v":1.18,"c":"yellow"},
      {"i":107,"v":1.187,"c":"yellow"},{"i":108,"v":1.187,"c":"yellow"},{"i":109,"v":1.193,"c":"yellow"},{"i":110,"v":1.193,"c":"yellow"},{"i":111,"v":1.187,"c":"yellow"},
      {"i":112,"v":1.18,"c":"yellow"},{"i":113,"v":1.18,"c":"yellow"},{"i":114,"v":1.173,"c":"yellow"},{"i":115,"v":1.173,"c":"yellow"},{"i":116,"v":1.18,"c":"yellow"},
      {"i":117,"v":1.18,"c":"yellow"},{"i":118,"v":1.187,"c":"yellow"},{"i":119,"v":1.187,"c":"yellow"},{"i":120,"v":1.18,"c":"yellow"},{"i":121,"v":1.18,"c":"yellow"},
      {"i":122,"v":1.173,"c":"yellow"},{"i":123,"v":1.173,"c":"yellow"},{"i":124,"v":1.173,"c":"yellow"},{"i":125,"v":1.193,"c":"yellow"},{"i":126,"v":1.207,"c":"yellow"},
      {"i":127,"v":1.207,"c":"yellow"},{"i":128,"v":1.227,"c":"yellow"},{"i":129,"v":1.227,"c":"yellow"},{"i":130,"v":1.227,"c":"yellow"},{"i":131,"v":1.227,"c":"yellow"}
    ],
    "volatline": [{"v":1.526}],
    "paneltxt": [
      {"panel":"vol","i":-1.545,"v":10.3,"txt":"PaRelativeVolume(ES 03-17 (5 Min),15)"},
      {"panel":"volat","i":-1.2,"v":1.32,"txt":"ClassificationOfVolatility(ES 03-17 (5 Min),0)"},
      {"panel":"volat","i":-1.545,"v":1.24,"txt":"© 2017 NinjaTrader, LLC"}
    ]
  },
  "vconcat": [
    {
      "width": 1527,
      "height": 638,
      "layer": [
        {
          "data": {"name": "boxes"},
          "mark": {"type": "rect", "color": "#e5e5e5"},
          "encoding": {
            "x": {"field": "i1", "type": "quantitative", "scale": {"domain": [-1.727, 137], "nice": false, "zero": false, "padding": 0}, "axis": null},
            "x2": {"field": "i2"},
            "y": {"field": "p1", "type": "quantitative", "scale": {"domain": [2356.487, 2372.846], "nice": false, "zero": false, "padding": 0},
                  "axis": {"orient": "right", "title": null, "values": [2357,2358,2359,2360,2361,2362,2363,2364,2365,2366,2367,2368,2369,2370,2371,2372], "labelExpr": "replace(format(datum.value, '.2f'), '.', ',')", "tickSize": 5, "labelPadding": 2, "labelFontSize": 12}},
            "y2": {"field": "p2"}
          }
        },
        {
          "data": {"name": "lav"},
          "mark": {"type": "rect", "color": "#c8c8f6"},
          "encoding": {
            "x": {"field": "i1", "type": "quantitative", "scale": {"domain": [-1.727, 137], "nice": false, "zero": false, "padding": 0}, "axis": null},
            "x2": {"field": "i2"},
            "y": {"field": "p1", "type": "quantitative", "scale": {"domain": [2356.487, 2372.846], "nice": false, "zero": false, "padding": 0}},
            "y2": {"field": "p2"}
          }
        },
        {
          "data": {"name": "lavslant"},
          "mark": {"type": "line", "color": "#c8c8f6", "strokeWidth": 5, "clip": true},
          "encoding": {
            "x": {"field": "i", "type": "quantitative", "scale": {"domain": [-1.727, 137], "nice": false, "zero": false, "padding": 0}, "axis": null},
            "y": {"field": "p", "type": "quantitative", "scale": {"domain": [2356.487, 2372.846], "nice": false, "zero": false, "padding": 0}}
          }
        },
        {
          "data": {"name": "bands"},
          "mark": {"type": "line", "color": "#9a9a9a", "strokeWidth": 1, "strokeDash": [2, 2]},
          "encoding": {
            "x": {"field": "i", "type": "quantitative", "scale": {"domain": [-1.727, 137], "nice": false, "zero": false, "padding": 0}, "axis": null},
            "y": {"field": "p", "type": "quantitative", "scale": {"domain": [2356.487, 2372.846], "nice": false, "zero": false, "padding": 0}},
            "detail": {"field": "s", "type": "nominal"}
          }
        },
        {
          "data": {"name": "steps"},
          "mark": {"type": "line", "color": "#15157a", "strokeWidth": 1, "strokeDash": [3, 2]},
          "encoding": {
            "x": {"field": "i", "type": "quantitative", "scale": {"domain": [-1.727, 137], "nice": false, "zero": false, "padding": 0}, "axis": null},
            "y": {"field": "p", "type": "quantitative", "scale": {"domain": [2356.487, 2372.846], "nice": false, "zero": false, "padding": 0}}
          }
        },
        {
          "data": {"name": "levels"},
          "transform": [{"filter": "datum.k != 'purple'"}],
          "mark": {"type": "rule", "strokeWidth": 1, "strokeDash": [3, 4]},
          "encoding": {
            "x": {"field": "i1", "type": "quantitative", "scale": {"domain": [-1.727, 137], "nice": false, "zero": false, "padding": 0}, "axis": null},
            "x2": {"field": "i2"},
            "y": {"field": "p", "type": "quantitative", "scale": {"domain": [2356.487, 2372.846], "nice": false, "zero": false, "padding": 0}},
            "color": {"condition": {"test": "datum.k == 'red'", "value": "#cc0000"}, "value": "#10108e"}
          }
        },
        {
          "data": {"name": "levels"},
          "transform": [{"filter": "datum.k == 'purple'"}],
          "mark": {"type": "rule", "strokeWidth": 1, "strokeDash": [2, 1], "color": "#8a3cff"},
          "encoding": {
            "x": {"field": "i1", "type": "quantitative", "scale": {"domain": [-1.727, 137], "nice": false, "zero": false, "padding": 0}, "axis": null},
            "x2": {"field": "i2"},
            "y": {"field": "p", "type": "quantitative", "scale": {"domain": [2356.487, 2372.846], "nice": false, "zero": false, "padding": 0}}
          }
        },
        {
          "data": {"name": "sess"},
          "mark": {"type": "rule", "color": "#c4c4c4", "strokeWidth": 1},
          "encoding": {
            "x": {"field": "i", "type": "quantitative", "scale": {"domain": [-1.727, 137], "nice": false, "zero": false, "padding": 0}, "axis": null}
          }
        },
        {
          "data": {"name": "num"},
          "mark": {"type": "text", "fontSize": 13, "align": "center", "baseline": "middle"},
          "encoding": {
            "x": {"field": "i", "type": "quantitative", "scale": {"domain": [-1.727, 137], "nice": false, "zero": false, "padding": 0}, "axis": null},
            "y": {"field": "p", "type": "quantitative", "scale": {"domain": [2356.487, 2372.846], "nice": false, "zero": false, "padding": 0}},
            "text": {"field": "txt"},
            "color": {"condition": [{"test": "datum.k == 'red'", "value": "#d01010"}, {"test": "datum.k == 'navy'", "value": "#3a3a8a"}], "value": "#2b2bd0"}
          }
        },
        {
          "data": {"name": "bars"},
          "mark": {"type": "rule", "strokeWidth": 2},
          "encoding": {
            "x": {"field": "i", "type": "quantitative", "scale": {"domain": [-1.727, 137], "nice": false, "zero": false, "padding": 0}, "axis": null},
            "y": {"field": "l", "type": "quantitative", "scale": {"domain": [2356.487, 2372.846], "nice": false, "zero": false, "padding": 0}},
            "y2": {"field": "h"},
            "color": {"condition": {"test": "datum.d == 'flat'", "value": "#a8a8a8"}, "value": "black"}
          }
        },
        {
          "data": {"name": "bars"},
          "mark": {"type": "bar", "width": 8, "strokeWidth": 2},
          "encoding": {
            "x": {"field": "i", "type": "quantitative", "scale": {"domain": [-1.727, 137], "nice": false, "zero": false, "padding": 0}, "axis": null},
            "y": {"field": "o", "type": "quantitative", "scale": {"domain": [2356.487, 2372.846], "nice": false, "zero": false, "padding": 0}},
            "y2": {"field": "c"},
            "fill": {"condition": {"test": "datum.d == 'down'", "value": "black"}, "value": "white"},
            "stroke": {"condition": {"test": "datum.d == 'flat'", "value": "#a8a8a8"}, "value": "black"}
          }
        },
        {
          "data": {"name": "hlines"},
          "transform": [{"filter": "datum.k == 'thick'"}],
          "mark": {"type": "rule", "color": "#ff00ff", "strokeWidth": 3.5, "strokeDash": [11, 5]},
          "encoding": {
            "y": {"field": "p", "type": "quantitative", "scale": {"domain": [2356.487, 2372.846], "nice": false, "zero": false, "padding": 0}}
          }
        },
        {
          "data": {"name": "hlines"},
          "transform": [{"filter": "datum.k == 'thin'"}],
          "mark": {"type": "rule", "color": "#ff00ff", "strokeWidth": 2, "strokeDash": [5, 3]},
          "encoding": {
            "y": {"field": "p", "type": "quantitative", "scale": {"domain": [2356.487, 2372.846], "nice": false, "zero": false, "padding": 0}}
          }
        },
        {
          "data": {"name": "ema"},
          "mark": {"type": "point", "filled": true, "size": 30, "opacity": 1, "strokeWidth": 0},
          "encoding": {
            "x": {"field": "i", "type": "quantitative", "scale": {"domain": [-1.727, 137], "nice": false, "zero": false, "padding": 0}, "axis": null},
            "y": {"field": "p", "type": "quantitative", "scale": {"domain": [2356.487, 2372.846], "nice": false, "zero": false, "padding": 0}},
            "color": {"condition": [
              {"test": "datum.c == 'blue'", "value": "#1e8cff"},
              {"test": "datum.c == 'navy'", "value": "#0a14e0"},
              {"test": "datum.c == 'red'", "value": "#ee0000"},
              {"test": "datum.c == 'pink'", "value": "#f08080"}
            ], "value": "#808080"}
          }
        },
        {
          "data": {"name": "tk"},
          "mark": {"type": "rule", "strokeWidth": 3},
          "encoding": {
            "x": {"field": "i1", "type": "quantitative", "scale": {"domain": [-1.727, 137], "nice": false, "zero": false, "padding": 0}, "axis": null},
            "x2": {"field": "i2"},
            "y": {"field": "p", "type": "quantitative", "scale": {"domain": [2356.487, 2372.846], "nice": false, "zero": false, "padding": 0}},
            "color": {"condition": {"test": "datum.k == 'red'", "value": "#ee0000"}, "value": "#0000ee"}
          }
        },
        {
          "data": {"name": "trades"},
          "mark": {"type": "line", "color": "#ee0000", "strokeWidth": 2},
          "encoding": {
            "x": {"field": "i", "type": "quantitative", "scale": {"domain": [-1.727, 137], "nice": false, "zero": false, "padding": 0}, "axis": null},
            "y": {"field": "p", "type": "quantitative", "scale": {"domain": [2356.487, 2372.846], "nice": false, "zero": false, "padding": 0}},
            "detail": {"field": "tr", "type": "nominal"}
          }
        },
        {
          "data": {"name": "mk"},
          "transform": [{"filter": "datum.k == 'spike_dn'"}],
          "mark": {"type": "point", "shape": "triangle-down", "filled": true, "size": 50, "opacity": 1, "color": "#b80000"},
          "encoding": {
            "x": {"field": "i", "type": "quantitative", "scale": {"domain": [-1.727, 137], "nice": false, "zero": false, "padding": 0}, "axis": null},
            "y": {"field": "p", "type": "quantitative", "scale": {"domain": [2356.487, 2372.846], "nice": false, "zero": false, "padding": 0}}
          }
        },
        {
          "data": {"name": "mk"},
          "transform": [{"filter": "datum.k == 'spike_up'"}],
          "mark": {"type": "point", "shape": "triangle-up", "filled": true, "size": 45, "opacity": 1, "color": "#000080"},
          "encoding": {
            "x": {"field": "i", "type": "quantitative", "scale": {"domain": [-1.727, 137], "nice": false, "zero": false, "padding": 0}, "axis": null},
            "y": {"field": "p", "type": "quantitative", "scale": {"domain": [2356.487, 2372.846], "nice": false, "zero": false, "padding": 0}}
          }
        },
        {
          "data": {"name": "mk"},
          "transform": [{"filter": "datum.k == 'sell'"}],
          "mark": {"type": "point", "shape": "M-0.2,-1L0.2,-1L0.2,0.1L0.6,0.1L0,1L-0.6,0.1L-0.2,0.1Z", "filled": true, "size": 196, "opacity": 1, "color": "#ff00ff"},
          "encoding": {
            "x": {"field": "i", "type": "quantitative", "scale": {"domain": [-1.727, 137], "nice": false, "zero": false, "padding": 0}, "axis": null},
            "y": {"field": "p", "type": "quantitative", "scale": {"domain": [2356.487, 2372.846], "nice": false, "zero": false, "padding": 0}}
          }
        },
        {
          "data": {"name": "mk"},
          "transform": [{"filter": "datum.k == 'buy'"}],
          "mark": {"type": "point", "shape": "M-0.2,1L0.2,1L0.2,-0.1L0.6,-0.1L0,-1L-0.6,-0.1L-0.2,-0.1Z", "filled": true, "size": 196, "opacity": 1, "color": "#0033ff"},
          "encoding": {
            "x": {"field": "i", "type": "quantitative", "scale": {"domain": [-1.727, 137], "nice": false, "zero": false, "padding": 0}, "axis": null},
            "y": {"field": "p", "type": "quantitative", "scale": {"domain": [2356.487, 2372.846], "nice": false, "zero": false, "padding": 0}}
          }
        },
        {
          "data": {"name": "mk"},
          "transform": [{"filter": "datum.k == 'entry'"}],
          "mark": {"type": "point", "shape": "triangle-right", "filled": true, "size": 30, "opacity": 1, "color": "#ff00ff"},
          "encoding": {
            "x": {"field": "i", "type": "quantitative", "scale": {"domain": [-1.727, 137], "nice": false, "zero": false, "padding": 0}, "axis": null},
            "y": {"field": "p", "type": "quantitative", "scale": {"domain": [2356.487, 2372.846], "nice": false, "zero": false, "padding": 0}}
          }
        },
        {
          "data": {"name": "mk"},
          "transform": [{"filter": "datum.k == 'exit'"}],
          "mark": {"type": "point", "shape": "triangle-left", "filled": true, "size": 30, "opacity": 1, "color": "#0033ff"},
          "encoding": {
            "x": {"field": "i", "type": "quantitative", "scale": {"domain": [-1.727, 137], "nice": false, "zero": false, "padding": 0}, "axis": null},
            "y": {"field": "p", "type": "quantitative", "scale": {"domain": [2356.487, 2372.846], "nice": false, "zero": false, "padding": 0}}
          }
        },
        {
          "data": {"name": "ann"},
          "mark": {"type": "text", "fontSize": 13, "align": "center", "baseline": "middle", "color": "black"},
          "encoding": {
            "x": {"field": "i", "type": "quantitative", "scale": {"domain": [-1.727, 137], "nice": false, "zero": false, "padding": 0}, "axis": null},
            "y": {"field": "p", "type": "quantitative", "scale": {"domain": [2356.487, 2372.846], "nice": false, "zero": false, "padding": 0}},
            "text": {"field": "txt"}
          }
        },
        {
          "data": {"name": "hdr"},
          "mark": {"type": "text", "fontSize": 13.5, "align": "left", "baseline": "middle", "color": "black"},
          "encoding": {
            "x": {"field": "i", "type": "quantitative", "scale": {"domain": [-1.727, 137], "nice": false, "zero": false, "padding": 0}, "axis": null},
            "y": {"field": "p", "type": "quantitative", "scale": {"domain": [2356.487, 2372.846], "nice": false, "zero": false, "padding": 0}},
            "text": {"field": "txt"}
          }
        },
        {
          "data": {"name": "tag"},
          "mark": {"type": "point", "shape": "M0,0L0.25,-0.245L1.97,-0.245L1.97,0.245L0.25,0.245Z", "filled": true, "size": 4096, "opacity": 1, "color": "black"},
          "encoding": {
            "x": {"field": "i", "type": "quantitative", "scale": {"domain": [-1.727, 137], "nice": false, "zero": false, "padding": 0}, "axis": null},
            "y": {"field": "p", "type": "quantitative", "scale": {"domain": [2356.487, 2372.846], "nice": false, "zero": false, "padding": 0}}
          }
        },
        {
          "data": {"name": "tag"},
          "mark": {"type": "text", "fontSize": 12.5, "align": "center", "baseline": "middle", "dx": 33, "color": "white"},
          "encoding": {
            "x": {"field": "i", "type": "quantitative", "scale": {"domain": [-1.727, 137], "nice": false, "zero": false, "padding": 0}, "axis": null},
            "y": {"field": "p", "type": "quantitative", "scale": {"domain": [2356.487, 2372.846], "nice": false, "zero": false, "padding": 0}},
            "text": {"field": "txt"}
          }
        }
      ]
    },
    {
      "width": 1527,
      "height": 67,
      "layer": [
        {
          "data": {"name": "zero"},
          "mark": {"type": "rule", "color": "#a0a0a0", "strokeWidth": 1},
          "encoding": {
            "y": {"field": "v", "type": "quantitative", "scale": {"domain": [-37.7, 29.3], "nice": false, "zero": false, "padding": 0},
                  "axis": {"orient": "right", "title": null, "values": [0], "tickSize": 5, "labelPadding": 2, "labelFontSize": 12}}
          }
        },
        {
          "data": {"name": "sess"},
          "mark": {"type": "rule", "color": "#c4c4c4", "strokeWidth": 1},
          "encoding": {
            "x": {"field": "i", "type": "quantitative", "scale": {"domain": [-1.727, 137], "nice": false, "zero": false, "padding": 0}, "axis": null}
          }
        },
        {
          "data": {"name": "vol"},
          "mark": {"type": "rule", "strokeWidth": 2},
          "encoding": {
            "x": {"field": "i", "type": "quantitative", "scale": {"domain": [-1.727, 137], "nice": false, "zero": false, "padding": 0}, "axis": null},
            "y": {"field": "v", "type": "quantitative", "scale": {"domain": [-37.7, 29.3], "nice": false, "zero": false, "padding": 0}},
            "y2": {"datum": 0},
            "color": {"condition": [{"test": "datum.c == 'red'", "value": "#e00000"}, {"test": "datum.c == 'green'", "value": "#00dd00"}], "value": "#808080"}
          }
        },
        {
          "data": {"name": "paneltxt"},
          "transform": [{"filter": "datum.panel == 'vol'"}],
          "mark": {"type": "text", "fontSize": 13, "align": "left", "baseline": "middle", "color": "black"},
          "encoding": {
            "x": {"field": "i", "type": "quantitative", "scale": {"domain": [-1.727, 137], "nice": false, "zero": false, "padding": 0}, "axis": null},
            "y": {"field": "v", "type": "quantitative", "scale": {"domain": [-37.7, 29.3], "nice": false, "zero": false, "padding": 0}},
            "text": {"field": "txt"}
          }
        }
      ]
    },
    {
      "width": 1527,
      "height": 30,
      "layer": [
        {
          "data": {"name": "volatline"},
          "mark": {"type": "rule", "color": "#e6e600", "strokeWidth": 1, "strokeDash": [3, 2]},
          "encoding": {
            "y": {"field": "v", "type": "quantitative", "scale": {"domain": [1.1, 1.7], "nice": false, "zero": false, "padding": 0},
                  "axis": {"orient": "right", "title": null, "values": [1.4], "labelExpr": "replace(format(datum.value, '.1f'), '.', ',')", "tickSize": 5, "labelPadding": 2, "labelFontSize": 12}}
          }
        },
        {
          "data": {"name": "sess"},
          "mark": {"type": "rule", "color": "#c4c4c4", "strokeWidth": 1},
          "encoding": {
            "x": {"field": "i", "type": "quantitative", "scale": {"domain": [-1.727, 137], "nice": false, "zero": false, "padding": 0}}
          }
        },
        {
          "data": {"name": "volat"},
          "mark": {"type": "point", "filled": true, "size": 24, "opacity": 1, "strokeWidth": 0},
          "encoding": {
            "x": {"field": "i", "type": "quantitative", "scale": {"domain": [-1.727, 137], "nice": false, "zero": false, "padding": 0},
                  "axis": {"orient": "bottom", "title": null, "values": [0,6,12,18,24,30,36,42,48,57,63,69,75,81,87,93,99,105,111,117,123,129],
                           "labelExpr": "['18:00','18:30','19:00','19:30','20:00','20:30','21:00','21:30','22:00','2/28','16:30','17:00','17:30','18:00','18:30','19:00','19:30','20:00','20:30','21:00','21:30','22:00'][indexof([0,6,12,18,24,30,36,42,48,57,63,69,75,81,87,93,99,105,111,117,123,129], datum.value)]",
                           "tickSize": 5, "labelPadding": 2, "labelFontSize": 12, "domain": false, "labelFlush": false, "labelOverlap": false}},
            "y": {"field": "v", "type": "quantitative", "scale": {"domain": [1.1, 1.7], "nice": false, "zero": false, "padding": 0}},
            "color": {"condition": {"test": "datum.c == 'gray'", "value": "#808080"}, "value": "#f4f400"}
          }
        },
        {
          "data": {"name": "paneltxt"},
          "transform": [{"filter": "datum.panel == 'volat'"}],
          "mark": {"type": "text", "fontSize": 13, "align": "left", "baseline": "middle", "color": "black"},
          "encoding": {
            "x": {"field": "i", "type": "quantitative", "scale": {"domain": [-1.727, 137], "nice": false, "zero": false, "padding": 0}},
            "y": {"field": "v", "type": "quantitative", "scale": {"domain": [1.1, 1.7], "nice": false, "zero": false, "padding": 0}},
            "text": {"field": "txt"}
          }
        }
      ]
    }
  ]
}
